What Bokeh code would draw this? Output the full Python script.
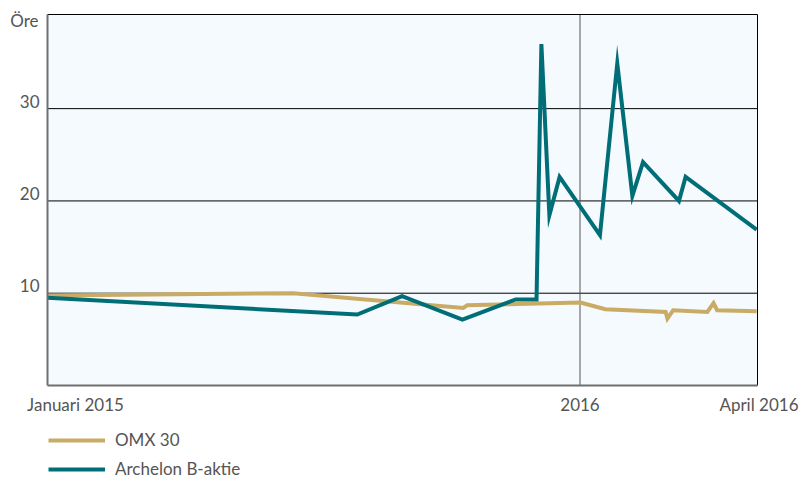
from bokeh.plotting import figure
from bokeh.models import Range1d, Label, Legend, LegendItem
from bokeh.embed import file_html
from bokeh.resources import INLINE

# x in months since January 2015
tick_months = [0, 12, 16]
tick_labels = ["Januari 2015", "2016", "April 2016"]
y_ticks = [10, 20, 30]
y_unit = "Öre"
X_MAX = 16
Y_MAX = 40.2

omx_months = [0, 5.54, 9.37, 9.46, 12.01, 12.57, 13.93, 13.97, 14.10, 14.87, 15.01, 15.09, 15.98]
omx_values = [9.75, 10.0, 8.41, 8.70, 8.99, 8.27, 7.97, 7.26, 8.16, 7.97, 8.92, 8.16, 8.05]

arch_months = [0, 6.98, 7.99, 9.35, 10.55, 11.02, 11.13, 11.31, 11.54, 12.45, 12.84,
               13.18, 13.42, 14.23, 14.38, 15.98]
arch_values = [9.5, 7.69, 9.67, 7.15, 9.32, 9.32, 37.0, 18.45, 22.6, 16.3, 34.9,
               20.55, 24.2, 20.0, 22.6, 16.9]

series_names = ["OMX 30", "Archelon B-aktie"]
TAN = "#C9AB66"
TEAL = "#006E76"
TXT = "#555555"
FONT = "Lato"
FS = "17px"

# canvas / plot-area geometry (pixels)
W, H = 801, 479
PL, PR, PT, PB = 47, 757, 14, 385
xs = (PR - PL) / X_MAX
ys = (PB - PT) / Y_MAX

p = figure(width=W, height=H, output_backend="svg", toolbar_location=None,
           x_range=Range1d(-PL / xs, (W - PL) / xs),
           y_range=Range1d(-(H - PB) / ys, Y_MAX + PT / ys),
           min_border=0)
p.outline_line_color = None
p.background_fill_color = "white"
p.border_fill_color = "white"
p.xaxis.visible = False
p.yaxis.visible = False
p.xgrid.visible = False
p.ygrid.visible = False

# plot area
p.quad(left=0, right=X_MAX, bottom=0, top=Y_MAX, fill_color="#F5FAFF", line_color=None)
p.segment(x0=[0] * len(y_ticks), x1=[X_MAX] * len(y_ticks), y0=y_ticks, y1=y_ticks,
          line_color="black", line_width=1)
p.segment(x0=[tick_months[1]], x1=[tick_months[1]], y0=[0], y1=[Y_MAX],
          line_color="#555555", line_width=1)

r1 = p.line(omx_months, omx_values, line_color=TAN, line_width=4, line_join="miter")
r2 = p.line(arch_months, arch_values, line_color=TEAL, line_width=4, line_join="miter")

# frame: black top/right, grey axes left/bottom
p.segment(x0=[0, X_MAX], x1=[X_MAX, X_MAX], y0=[Y_MAX, 0], y1=[Y_MAX, Y_MAX],
          line_color="black", line_width=1)
p.segment(x0=[0, 0], x1=[0, X_MAX], y0=[0, 0], y1=[Y_MAX, 0],
          line_color="#707070", line_width=2)

# y tick labels, sitting just above their grid lines
for v in y_ticks:
    p.add_layout(Label(x=0, y=v, text=str(v), x_offset=-8, y_offset=1,
                       text_align="right", text_baseline="bottom",
                       text_font=FONT, text_font_size=FS, text_color=TXT))
p.add_layout(Label(x=0, y=Y_MAX, text=y_unit, x_offset=-9, y_offset=-6,
                   text_align="right", text_baseline="middle",
                   text_font=FONT, text_font_size=FS, text_color=TXT))

# x tick labels
aligns = ["center", "center", "right"]
offsets = [28, 0, 41]
for m, lab, al, off in zip(tick_months, tick_labels, aligns, offsets):
    p.add_layout(Label(x=m, y=0, text=lab, x_offset=off, y_offset=-19,
                       text_align=al, text_baseline="middle",
                       text_font=FONT, text_font_size=FS, text_color=TXT))

legend = Legend(items=[LegendItem(label=series_names[0], renderers=[r1]),
                       LegendItem(label=series_names[1], renderers=[r2])],
                location=(PL + 1, 0), orientation="vertical")
legend.margin = 0
legend.padding = 0
legend.spacing = 8
legend.glyph_width = 57
legend.glyph_height = 18
legend.label_standoff = 10
legend.label_height = 18
legend.label_text_font = FONT
legend.label_text_font_size = FS
legend.label_text_color = TXT
legend.border_line_alpha = 0
legend.background_fill_alpha = 0
p.add_layout(legend, "center")

open("out.html", "w").write(file_html(p, INLINE))
